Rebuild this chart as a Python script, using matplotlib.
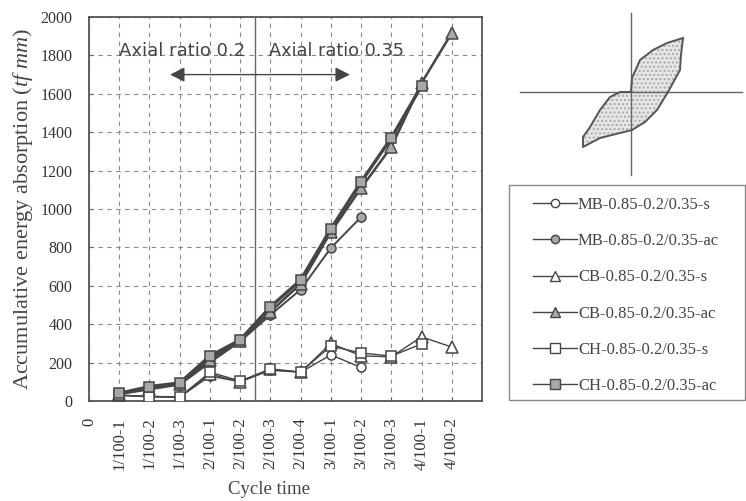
import matplotlib
matplotlib.use("Agg")
import matplotlib.pyplot as plt
from matplotlib.lines import Line2D
from matplotlib.patches import Polygon, Rectangle
import numpy as np

plt.rcParams['font.family'] = ['Liberation Serif', 'DejaVu Serif']
plt.rcParams['mathtext.fontset'] = 'custom'
plt.rcParams['mathtext.it'] = 'Liberation Serif:italic'
plt.rcParams['mathtext.rm'] = 'Liberation Serif'

# ---------------- data ----------------
cycle_labels = ['0', '1/100-1', '1/100-2', '1/100-3', '2/100-1', '2/100-2', '2/100-3',
                '2/100-4', '3/100-1', '3/100-2', '3/100-3', '4/100-1', '4/100-2']

mb_s = [30, 25, 20, 130, 100, 160, 150, 240, 175]
mb_ac = [35, 60, 85, 200, 310, 448, 580, 797, 958]
cb_s = [30, 22, 20, 140, 100, 165, 150, 300, 235, 230, 334, 281]
cb_ac = [38, 65, 88, 215, 315, 465, 610, 880, 1109, 1323, 1656, 1917]
ch_s = [30, 22, 20, 150, 104, 167, 151, 286, 250, 234, 297]
ch_ac = [40, 75, 94, 234, 318, 490, 630, 896, 1141, 1370, 1641]

series_names = ['MB-0.85-0.2/0.35-s', 'MB-0.85-0.2/0.35-ac', 'CB-0.85-0.2/0.35-s',
                'CB-0.85-0.2/0.35-ac', 'CH-0.85-0.2/0.35-s', 'CH-0.85-0.2/0.35-ac']

yticks = list(range(0, 2001, 200))

# schematic hysteresis loop (relative units)
loop_x = [52, 50, 49, 37, 26, 14, 1, -31, -48, -48, -41, -31, -21, -11, 0, 1, 9, 22, 36, 52]
loop_y = [54, 37, 22, 0, -18, -30, -38, -46, -55, -45, -35, -18, -5, 0, 0, 14, 32, 42, 49, 54]

# ---------------- figure ----------------
W, H = 746, 501
fig = plt.figure(figsize=(W / 100, H / 100), dpi=100)
ax = fig.add_axes([89 / W, 1 - 401 / H, (482 - 89) / W, (401 - 17) / H])

dark = '#454545'
pat = '#a8a8a8'

styles = [
    dict(marker='o', mfc='white', lw=1.0, ms=6.5),
    dict(marker='o', mfc=pat, lw=1.4, ms=6.5),
    dict(marker='^', mfc='white', lw=1.0, ms=8),
    dict(marker='^', mfc=pat, lw=1.8, ms=8),
    dict(marker='s', mfc='white', lw=1.0, ms=7.5),
    dict(marker='s', mfc=pat, lw=2.4, ms=7.5),
]
all_series = [mb_s, mb_ac, cb_s, cb_ac, ch_s, ch_ac]

handles = []
for vals, st, name in zip(all_series, styles, series_names):
    xs = np.arange(1, len(vals) + 1)
    ax.plot(xs, vals, color=dark, lw=st['lw'], marker=st['marker'],
            ms=st['ms'], mfc=st['mfc'], mec=dark, mew=1.1, zorder=3)
    handles.append(Line2D([], [], color=dark, lw=1.0, marker=st['marker'],
                          ms=st['ms'] - 0.5, mfc=st['mfc'], mec=dark, mew=1.0))

ax.set_xlim(0, 13)
ax.set_ylim(0, 2000)
ax.set_xticks(range(len(cycle_labels)))
ax.set_xticklabels(cycle_labels, rotation=90, fontsize=12, color='#333333')
ax.set_yticks(yticks)
ax.set_yticklabels([str(v) for v in yticks], fontsize=11.5, color='#333333')
ax.tick_params(axis='both', direction='in', length=3, color='#666666')
ax.tick_params(axis='x', pad=12)
ax.tick_params(axis='y', pad=12)

ax.grid(True, color='#8a8a8a', linestyle=(0, (4, 4)), linewidth=0.8)
ax.set_axisbelow(True)
for sp in ax.spines.values():
    sp.set_color('#555555')
    sp.set_linewidth(1.3)

# vertical divider line between axial ratio stages
ax.axvline(5.5, color='#666666', lw=1.0, zorder=2)

# annotations
ax.text(1.0, 1825, 'Axial ratio 0.2', family='DejaVu Sans', fontsize=13,
        color='#444444', va='center', ha='left')
ax.text(5.95, 1825, 'Axial ratio 0.35', family='DejaVu Sans', fontsize=12.8,
        color='#444444', va='center', ha='left')
ax.annotate('', xy=(2.68, 1700), xytext=(8.63, 1700),
            arrowprops=dict(arrowstyle='<|-|>', color='#444444', lw=1.0,
                            mutation_scale=22, shrinkA=0, shrinkB=0))

ax.set_ylabel('Accumulative energy absorption ($\\it{tf\\ mm}$)', fontsize=16,
              color='#444444')
ax.yaxis.set_label_coords(-54 / 393, 0.5)
fig.text(269 / W, 1 - 489 / H, 'Cycle time', fontsize=13.5, color='#444444',
         ha='center', va='center')

# legend (frame drawn separately)
fig.patches.append(Rectangle((509 / W, 1 - 400 / H), (745 - 509) / W, (400 - 185) / H,
                             transform=fig.transFigure, facecolor='none',
                             edgecolor='#888888', lw=1.0))
leg = fig.legend(handles, series_names, loc='upper left',
                 bbox_to_anchor=(533 / W, 1 - 197 / H),
                 fontsize=12, frameon=False, labelspacing=1.21, handlelength=2.64,
                 handletextpad=0.06, borderpad=0, borderaxespad=0)
for t in leg.get_texts():
    t.set_color('#444444')

# schematic inset
ins = fig.add_axes([500 / W, 1 - 180 / H, 246 / W, 180 / H])
ins.set_xlim(-131, 115)
ins.set_ylim(-88, 92)
ins.axis('off')
ins.plot([-111, 111], [0, 0], color='#666666', lw=1.0)
ins.plot([0, 0], [-83, 79], color='#666666', lw=1.0)
poly = Polygon(np.column_stack([loop_x, loop_y]), closed=True, facecolor='#e6e6e6',
               edgecolor='#a8a8a8', hatch='....', lw=0)
ins.add_patch(poly)
ins.plot(loop_x, loop_y, color='#555555', lw=1.4)

fig.savefig('out.png', dpi=100)
